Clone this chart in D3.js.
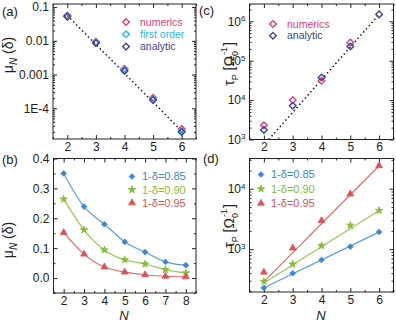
<!DOCTYPE html>
<html>
<head>
<meta charset="utf-8">
<script src="https://cdn.jsdelivr.net/npm/d3@7"></script>
<style>
  body { margin: 0; background: #fff; }
  svg { font-family: "Liberation Sans", Arial, sans-serif; }
</style>
</head>
<body>
<script>
// ---- data ----
var nA = [2, 3, 4, 5, 6];
var aNumerics = [0.056, 0.0093, 0.00148, 2.05e-4, 2.45e-5];
var aFirstOrder = [0.054, 0.0090, 0.00140, 1.85e-4, 2.2e-5];
var aAnalytic = [0.052, 0.0086, 0.00128, 1.75e-4, 2.0e-5];
var aFitN = [2, 6];
var aFit = [0.056, 2.1e-5];

var nC = [2, 3, 4, 5];
var cNumerics = [2300, 10000, 31000, 290000];
var nCa = [2, 3, 4, 5, 6];
var cAnalytic = [1750, 7200, 37500, 230000, 1500000];
var cFitN = [2.17, 6];
var cFit = [1000, 1500000];

var nB = [2, 3, 4, 5, 6, 7, 8];
var b085 = [0.35, 0.239, 0.18, 0.121, 0.087, 0.054, 0.043];
var b090 = [0.264, 0.161, 0.094, 0.061, 0.047, 0.028, 0.017];
var b095 = [0.152, 0.080, 0.037, 0.020, 0.011, 0.006, 0.004];

var nD = [2, 3, 4, 5, 6];
var d085 = [229, 398, 663, 1100, 1920];
var d090 = [290, 562, 1135, 2475, 4350];
var d095 = [415, 1040, 2970, 8150, 24000];
var dFitN = [2, 6];
var dFit085 = [229, 1910];
var dFit090 = [276, 4370];
var dFit095 = [290, 24000];

var legendB = ["1-\u03b4=0.85", "1-\u03b4=0.90", "1-\u03b4=0.95"];

var W = 396, H = 322;
var svg = d3.select("body").append("svg").attr("width", W).attr("height", H);

var cPink = "#e0407e", cCyan = "#33b5ea", cNavy = "#3f4592";
var cBlue = "#3d86d0", cGreen = "#86bb3a", cRed = "#d9545a";
var lBlue = "#5c9ddb", lGreen = "#9cc85e", lRed = "#e06a6a";

function minorLog(dom) {
  var out = [];
  var lo = Math.floor(Math.log10(dom[0])), hi = Math.ceil(Math.log10(dom[1]));
  for (var e = lo; e <= hi; e++) for (var k = 2; k <= 9; k++) {
    var v = k * Math.pow(10, e);
    if (v > dom[0] && v < dom[1]) out.push(v);
  }
  return out;
}

function panel(box, xd, xMajor, xMinor, y, yMajor, yMinor, yFmt) {
  var x = d3.scaleLinear().domain(xd).range([box.l, box.r]);
  y.range([box.b, box.t]);
  var g = svg.append("g");
  function ax(gen, tr, vals, size, fmt, pad) {
    var a = g.append("g").attr("transform", tr)
      .call(gen.tickValues(vals).tickSizeInner(-size).tickSizeOuter(0).tickPadding(pad || 4).tickFormat(fmt || ""));
    a.select(".domain").remove();
    a.selectAll("line").attr("stroke", "#222");
    return a;
  }
  var bx = ax(d3.axisBottom(x), "translate(0," + box.b + ")", xMajor, 4, d3.format("d"), 3);
  bx.selectAll("text").attr("font-size", 12).attr("fill", "#222").attr("dy", "0.72em");
  ax(d3.axisBottom(x), "translate(0," + box.b + ")", xMinor, 2);
  ax(d3.axisTop(x), "translate(0," + box.t + ")", xMajor, 4);
  ax(d3.axisTop(x), "translate(0," + box.t + ")", xMinor, 2);
  var ly = ax(d3.axisLeft(y), "translate(" + box.l + ",0)", yMajor, 4, function () { return ""; });
  ly.selectAll("text").each(function (d) { yFmt(d3.select(this), d); })
    .attr("font-size", 12).attr("fill", "#222");
  ax(d3.axisLeft(y), "translate(" + box.l + ",0)", yMinor, 2);
  ax(d3.axisRight(y), "translate(" + box.r + ",0)", yMajor, 4);
  ax(d3.axisRight(y), "translate(" + box.r + ",0)", yMinor, 2);
  g.append("rect").attr("x", box.l).attr("y", box.t)
    .attr("width", box.r - box.l).attr("height", box.b - box.t)
    .attr("fill", "none").attr("stroke", "#222").attr("stroke-width", 1);
  return { x: x, y: y, g: g };
}

function supFmt(sel, d) {
  var e = Math.round(Math.log10(d));
  sel.text("10").append("tspan").attr("dy", "-0.55em").attr("font-size", 8).text(e);
}

function halfTicks(a, b) {
  var out = [];
  for (var v = a; v <= b; v += 0.5) if (v % 1 !== 0) out.push(v);
  return out;
}

function diamonds(p, xs, ys, color) {
  p.g.selectAll(null).data(xs).enter().append("path")
    .attr("d", d3.symbol(d3.symbolSquare, 22)())
    .attr("transform", function (d, i) { return "translate(" + p.x(d) + "," + p.y(ys[i]) + ") rotate(45)"; })
    .attr("fill", "none").attr("stroke", color).attr("stroke-width", 1.4);
}

function dotted(p, xs, ys) {
  p.g.append("path").datum(xs)
    .attr("d", d3.line().x(function (d) { return p.x(d); }).y(function (d, i) { return p.y(ys[i]); }))
    .attr("fill", "none").attr("stroke", "#111").attr("stroke-width", 1.5)
    .attr("stroke-dasharray", "1.4,2.8");
}

function legendOpen(p, items, x0, y0, dy) {
  items.forEach(function (it, i) {
    var yy = y0 + i * dy;
    p.g.append("path").attr("d", d3.symbol(d3.symbolSquare, 22)())
      .attr("transform", "translate(" + x0 + "," + yy + ") rotate(45)")
      .attr("fill", "none").attr("stroke", it[1]).attr("stroke-width", 1.4);
    p.g.append("text").attr("x", x0 + 14).attr("y", yy).attr("dy", "0.35em")
      .attr("font-size", 10.5).attr("fill", it[1]).text(it[0]);
  });
}

var symB = [
  d3.symbol(d3.symbolSquare, 16)(),
  d3.symbol(d3.symbolStar, 17)(),
  d3.symbol(d3.symbolTriangle, 20)()
];
var rotB = [45, 0, 0];

function filledMarks(p, xs, ys, k, color) {
  p.g.selectAll(null).data(xs).enter().append("path")
    .attr("d", symB[k])
    .attr("transform", function (d, i) { return "translate(" + p.x(d) + "," + p.y(ys[i]) + ") rotate(" + rotB[k] + ")"; })
    .attr("fill", color).attr("stroke", color).attr("stroke-width", 0.8);
}

function curve(p, xs, ys, color, cv) {
  p.g.append("path").datum(xs)
    .attr("d", d3.line().curve(cv).x(function (d) { return p.x(d); }).y(function (d, i) { return p.y(ys[i]); }))
    .attr("fill", "none").attr("stroke", color).attr("stroke-width", 1.2);
}

function legendFilled(p, x0, y0, dy) {
  var cols = [cBlue, cGreen, cRed];
  legendB.forEach(function (t, i) {
    var yy = y0 + i * dy;
    p.g.append("path").attr("d", symB[i])
      .attr("transform", "translate(" + x0 + "," + yy + ") rotate(" + rotB[i] + ")")
      .attr("fill", cols[i]).attr("stroke", cols[i]).attr("stroke-width", 0.8);
    p.g.append("text").attr("x", x0 + 10).attr("y", yy).attr("dy", "0.35em")
      .attr("font-size", 11).attr("fill", cols[i]).text(t);
  });
}

function label(txt, x, y) {
  svg.append("text").attr("x", x).attr("y", y).attr("font-size", 13).attr("fill", "#222").text(txt);
}

function muLabel(cx, cy) {
  var t = svg.append("text").attr("transform", "translate(" + cx + "," + cy + ") rotate(-90)")
    .attr("text-anchor", "middle").attr("font-size", 14).attr("fill", "#222");
  t.append("tspan").text("\u03bc");
  t.append("tspan").attr("dy", 4).attr("font-size", 10).attr("font-style", "italic").text("N");
  t.append("tspan").attr("dy", -4).text(" (\u03b4)");
}

function tauLabel(cx, cy) {
  var t = svg.append("text").attr("transform", "translate(" + cx + "," + cy + ") rotate(-90)")
    .attr("text-anchor", "middle").attr("font-size", 14).attr("fill", "#222");
  t.append("tspan").text("\u03c4");
  t.append("tspan").attr("dy", 4).attr("font-size", 9).text("P");
  t.append("tspan").attr("dy", -4).text(" [\u03a9");
  t.append("tspan").attr("dy", 4).attr("font-size", 9).text("0");
  t.append("tspan").attr("dy", -11).attr("dx", -4).attr("font-size", 9).text("-1");
  t.append("tspan").attr("dy", 7).attr("dx", 1).text("]");
}

function nLabel(cx, cy) {
  svg.append("text").attr("x", cx).attr("y", cy).attr("text-anchor", "middle")
    .attr("font-size", 13).attr("font-style", "italic").attr("fill", "#222").text("N");
}

// ---- panel (a) ----
var yA = d3.scaleLog().domain([Math.pow(10, -4.91), Math.pow(10, -0.91)]);
var pA = panel({ l: 53, r: 196, t: 4, b: 139 }, [1.5, 6.5], nA, halfTicks(1.5, 6.5),
  yA, [0.1, 0.01, 0.001, 1e-4], minorLog(yA.domain()),
  function (s, d) { s.text({ "0.1": "0.1", "0.01": "0.01", "0.001": "0.001", "0.0001": "1E-4" }[String(d)]); });
dotted(pA, aFitN, aFit);
diamonds(pA, nA, aNumerics, cPink);
diamonds(pA, nA, aFirstOrder, cCyan);
diamonds(pA, nA, aAnalytic, cNavy);
legendOpen(pA, [["numerics", cPink], ["first order", cCyan], ["analytic", cNavy]], 126, 22, 12.3);

// ---- panel (c) ----
var yC = d3.scaleLog().domain([1000, Math.pow(10, 6.44)]);
var pC = panel({ l: 249.5, r: 393.5, t: 4, b: 139.5 }, [1.5, 6.5], nA, halfTicks(1.5, 6.5),
  yC, [1e3, 1e4, 1e5, 1e6], minorLog(yC.domain()), supFmt);
dotted(pC, cFitN, cFit);
diamonds(pC, nC, cNumerics, cPink);
diamonds(pC, nCa, cAnalytic, cNavy);
legendOpen(pC, [["numerics", cPink], ["analytic", cNavy]], 273, 24, 11.7);

// ---- panel (b) ----
var yB = d3.scaleLinear().domain([-0.05, 0.4]);
var pB = panel({ l: 53.5, r: 196, t: 158.5, b: 293 }, [1.5, 8.5], nB, halfTicks(1.5, 8.5),
  yB, [0, 0.1, 0.2, 0.3, 0.4], [-0.05, 0.05, 0.15, 0.25, 0.35],
  function (s, d) { s.text(d3.format(".1f")(d)); });
curve(pB, nB, b085, lBlue, d3.curveNatural);
curve(pB, nB, b090, lGreen, d3.curveNatural);
curve(pB, nB, b095, lRed, d3.curveNatural);
filledMarks(pB, nB, b085, 0, cBlue);
filledMarks(pB, nB, b090, 1, cGreen);
filledMarks(pB, nB, b095, 2, cRed);
legendFilled(pB, 132, 176.5, 13.2);

// ---- panel (d) ----
var yD = d3.scaleLog().domain([Math.pow(10, 2.29), Math.pow(10, 4.5)]);
var pD = panel({ l: 249.5, r: 393.5, t: 158.5, b: 292 }, [1.5, 6.5], nD, halfTicks(1.5, 6.5),
  yD, [1e3, 1e4], minorLog(yD.domain()), supFmt);
curve(pD, dFitN, dFit085, lBlue, d3.curveLinear);
curve(pD, dFitN, dFit090, lGreen, d3.curveLinear);
curve(pD, dFitN, dFit095, lRed, d3.curveLinear);
filledMarks(pD, nD, d085, 0, cBlue);
filledMarks(pD, nD, d090, 1, cGreen);
filledMarks(pD, nD, d095, 2, cRed);
legendFilled(pD, 261, 174.5, 14.4);

// ---- labels ----
label("(a)", 2, 16);
label("(c)", 199, 15);
label("(b)", 2, 164);
label("(d)", 203, 163);
muLabel(13, 55);
muLabel(13, 240);
tauLabel(234, 64);
tauLabel(234, 226);
nLabel(124, 319.5);
nLabel(321, 319.5);
</script>
</body>
</html>
